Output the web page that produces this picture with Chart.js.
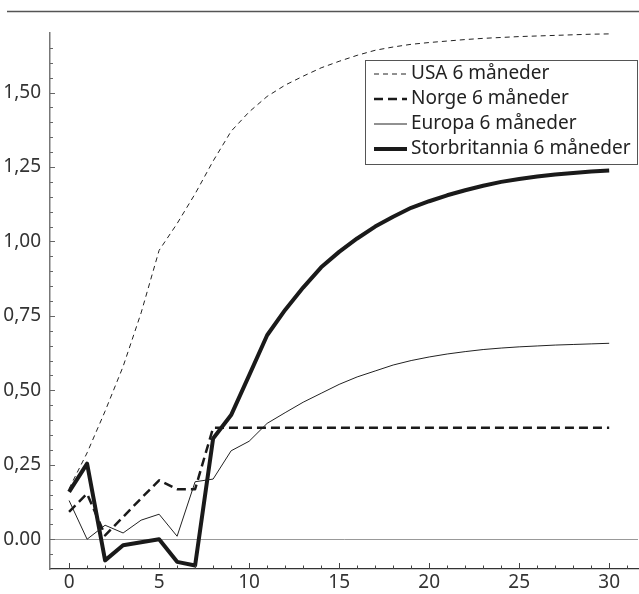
<!DOCTYPE html>
<html>
<head>
<meta charset="utf-8">
<script src="https://cdn.jsdelivr.net/npm/chart.js@4/dist/chart.umd.min.js"></script>
<style>
  body { margin: 0; background: #fff; }
  #chart { display: block; }
</style>
</head>
<body>
<canvas id="chart" width="639" height="594"></canvas>
<script>
// horizon (months)
const months = [0,1,2,3,4,5,6,7,8,9,10,11,12,13,14,15,16,17,18,19,20,21,22,23,24,25,26,27,28,29,30];

const usa = [0.17,0.29,0.43,0.58,0.76,0.97,1.06,1.16,1.27,1.37,1.435,1.487,1.525,1.555,1.583,1.605,1.625,1.642,1.653,1.662,1.668,1.673,1.678,1.682,1.685,1.688,1.690,1.692,1.694,1.696,1.697];
const norge = [0.092,0.153,0.013,0.075,0.137,0.198,0.168,0.168,0.374,0.374,0.374,0.374,0.374,0.374,0.374,0.374,0.374,0.374,0.374,0.374,0.374,0.374,0.374,0.374,0.374,0.374,0.374,0.374,0.374,0.374,0.374];
const europa = [0.13,0.0,0.047,0.021,0.064,0.084,0.01,0.193,0.202,0.297,0.329,0.389,0.425,0.46,0.49,0.52,0.545,0.565,0.585,0.60,0.612,0.622,0.63,0.637,0.642,0.646,0.649,0.652,0.654,0.656,0.658];
const storbritannia = [0.159,0.254,-0.071,-0.02,-0.01,0.0,-0.076,-0.088,0.338,0.417,0.55,0.685,0.77,0.845,0.913,0.965,1.01,1.05,1.083,1.113,1.135,1.155,1.172,1.187,1.20,1.21,1.218,1.225,1.23,1.235,1.238];

const seriesLabels = ['USA 6 måneder', 'Norge 6 måneder', 'Europa 6 måneder', 'Storbritannia 6 måneder'];

const xTickValues = [0,5,10,15,20,25,30];
const xTickLabels = ['0','5','10','15','20','25','30'];
const yTickValues = [0,0.25,0.5,0.75,1.0,1.25,1.5];
const yTickLabels = ['0.00','0,25','0,50','0,75','1,00','1,25','1,50'];

const FONT = '"Noto Sans", "Open Sans", sans-serif';

function pts(arr) {
  return months.map((m, i) => ({ x: m, y: arr[i] }));
}

// tick marks pointing into the plot, minor and major
const tickMarks = {
  id: 'tickMarks',
  afterDraw(chart) {
    const ctx = chart.ctx;
    const xs = chart.scales.x, ys = chart.scales.y;
    const area = chart.chartArea;
    ctx.save();
    ctx.strokeStyle = '#444';
    ctx.lineWidth = 1;
    for (let v = 0; v <= 31; v++) {
      const px = Math.round(xs.getPixelForValue(v)) + 0.5;
      const len = v % 5 === 0 ? 6 : 3.5;
      ctx.beginPath();
      ctx.moveTo(px, area.bottom);
      ctx.lineTo(px, area.bottom - len);
      ctx.stroke();
    }
    ctx.strokeStyle = '#666';
    for (let k = -2; k <= 33; k++) {
      const v = k * 0.05;
      const py = Math.round(ys.getPixelForValue(v)) + 0.5;
      if (py < area.top || py > area.bottom) continue;
      const len = k % 5 === 0 ? 5 : 3;
      ctx.beginPath();
      ctx.moveTo(area.left, py);
      ctx.lineTo(area.left + len, py);
      ctx.stroke();
    }
    ctx.restore();
  }
};

// top rule
const topRule = {
  id: 'topRule',
  afterDraw(chart) {
    const ctx = chart.ctx;
    ctx.save();
    ctx.strokeStyle = '#555';
    ctx.lineWidth = 1.5;
    ctx.beginPath();
    ctx.moveTo(7, 11.5);
    ctx.lineTo(639, 11.5);
    ctx.stroke();
    ctx.restore();
  }
};

// legend box inside the plot
const boxLegend = {
  id: 'boxLegend',
  afterDraw(chart) {
    const ctx = chart.ctx;
    const x0 = 365.5, y0 = 60.5, w = 272, h = 104;
    ctx.save();
    ctx.fillStyle = '#fff';
    ctx.fillRect(x0, y0, w, h);
    ctx.strokeStyle = '#555';
    ctx.lineWidth = 1;
    ctx.strokeRect(x0, y0, w, h);
    ctx.font = '19px ' + FONT;
    ctx.textBaseline = 'middle';
    ctx.fillStyle = '#222';
    chart.data.datasets.forEach((ds, i) => {
      const yy = 74 + i * 25;
      ctx.beginPath();
      ctx.strokeStyle = ds.borderColor;
      ctx.lineWidth = ds.borderWidth;
      ctx.setLineDash(ds.borderDash || []);
      ctx.moveTo(374, yy);
      ctx.lineTo(407, yy);
      ctx.stroke();
      ctx.setLineDash([]);
      ctx.fillText(ds.label, 411, yy);
    });
    ctx.restore();
  }
};

new Chart(document.getElementById('chart'), {
  type: 'line',
  data: {
    datasets: [
      { label: seriesLabels[0], data: pts(usa), borderColor: '#222', borderWidth: 1, borderDash: [5, 4] },
      { label: seriesLabels[1], data: pts(norge), borderColor: '#1a1a1a', borderWidth: 2.5, borderDash: [9, 5] },
      { label: seriesLabels[2], data: pts(europa), borderColor: '#222', borderWidth: 1 },
      { label: seriesLabels[3], data: pts(storbritannia), borderColor: '#1a1a1a', borderWidth: 4 }
    ]
  },
  options: {
    responsive: false,
    devicePixelRatio: 1,
    animation: false,
    elements: {
      point: { radius: 0 },
      line: { tension: 0, borderJoinStyle: 'round', borderCapStyle: 'butt' }
    },
    layout: { padding: { top: 33, right: 1, left: 0, bottom: 0 } },
    plugins: {
      legend: { display: false },
      tooltip: { enabled: false }
    },
    scales: {
      x: {
        type: 'linear',
        min: -1.06,
        max: 31.6,
        afterBuildTicks: s => { s.ticks = xTickValues.map(v => ({ value: v })); },
        afterFit: s => { s.height = 25; },
        ticks: {
          autoSkip: false,
          maxRotation: 0,
          padding: 2,
          color: '#333',
          font: { family: FONT, size: 19 },
          callback: (v) => xTickLabels[xTickValues.indexOf(v)]
        },
        grid: { display: false, drawTicks: false },
        border: { display: true, color: '#333', width: 1.3 }
      },
      y: {
        type: 'linear',
        min: -0.1,
        max: 1.70,
        afterBuildTicks: s => { s.ticks = yTickValues.map(v => ({ value: v })); },
        afterFit: s => { s.width = 50; },
        ticks: {
          padding: 9,
          color: '#333',
          font: { family: FONT, size: 19 },
          callback: (v) => yTickLabels[yTickValues.indexOf(v)]
        },
        grid: {
          drawTicks: false,
          color: c => (c.tick && c.tick.value === 0) ? '#999' : 'rgba(0,0,0,0)',
          lineWidth: 1
        },
        border: { display: true, color: '#777', width: 1.5 }
      }
    }
  },
  plugins: [tickMarks, topRule, boxLegend]
});
</script>
</body>
</html>
